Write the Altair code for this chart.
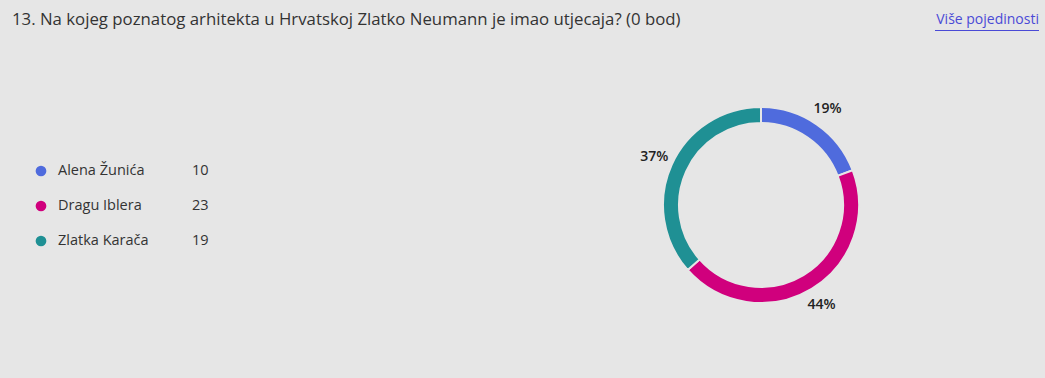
import altair as alt
import pandas as pd

title_text = "13. Na kojeg poznatog arhitekta u Hrvatskoj Zlatko Neumann je imao utjecaja? (0 bod)"
link_text = "Više pojedinosti"
categories = ["Alena Žunića", "Dragu Iblera", "Zlatka Karača"]
counts = [10, 23, 19]
colors = ["#4f6bdd", "#d0007d", "#1f9094"]

total = sum(counts)
df = pd.DataFrame({
    "cat": categories,
    "count": counts,
    "order": list(range(len(categories))),
    "pct": [f"{round(c / total * 100)}%" for c in counts],
})

FONT = "Open Sans"
BG = "#e6e6e6"
color_scale = alt.Scale(domain=categories, range=colors)
leg_scale = alt.Scale(domain=[0, 2], range=[171, 241])

base = alt.Chart(df)

arc = base.mark_arc(radius=98, radius2=82, stroke=BG, strokeWidth=2).encode(
    theta=alt.Theta("count:Q", stack=True),
    order=alt.Order("order:Q"),
    color=alt.Color("cat:N", scale=color_scale, legend=None),
    x=alt.value(761), y=alt.value(205),
)
pct_text = base.mark_text(radius=117, font=FONT, fontSize=14, fontWeight=600, color="#222222").encode(
    theta=alt.Theta("count:Q", stack=True),
    order=alt.Order("order:Q"),
    text="pct:N",
    x=alt.value(761), y=alt.value(205),
)

leg_dots = base.mark_point(filled=True, size=115, opacity=1).encode(
    x=alt.value(41), y=alt.Y("order:Q", axis=None, scale=leg_scale),
    color=alt.Color("cat:N", scale=color_scale, legend=None),
)
leg_names = base.mark_text(align="left", baseline="middle", font=FONT, fontSize=14.5, color="#333333").encode(
    x=alt.value(58), y=alt.Y("order:Q", axis=None, scale=leg_scale),
    text="cat:N",
)
leg_counts = base.mark_text(align="left", baseline="middle", font=FONT, fontSize=14.5, color="#333333").encode(
    x=alt.value(192), y=alt.Y("order:Q", axis=None, scale=leg_scale),
    text="count:Q",
)

title = alt.Chart(pd.DataFrame({"t": [title_text]})).mark_text(
    align="left", baseline="middle", font=FONT, fontSize=16.8, color="#333333"
).encode(x=alt.value(12), y=alt.value(20), text="t:N")

link = alt.Chart(pd.DataFrame({"t": [link_text]})).mark_text(
    align="right", baseline="middle", font=FONT, fontSize=14, color="#4a4ad6"
).encode(x=alt.value(1039), y=alt.value(20), text="t:N")
underline = alt.Chart(pd.DataFrame({"a": [0]})).mark_rule(color="#4a4ad6", strokeWidth=1.2).encode(
    x=alt.value(935), x2=alt.value(1039), y=alt.value(30.5)
)

chart = alt.layer(arc, pct_text, leg_dots, leg_names, leg_counts, title, link, underline).resolve_scale(
    y="shared"
).properties(
    width=1045, height=378, autosize="none", padding=0, background=BG
).configure_view(stroke=None)

chart.save("out.html", embed_options={"renderer": "svg", "actions": False})
